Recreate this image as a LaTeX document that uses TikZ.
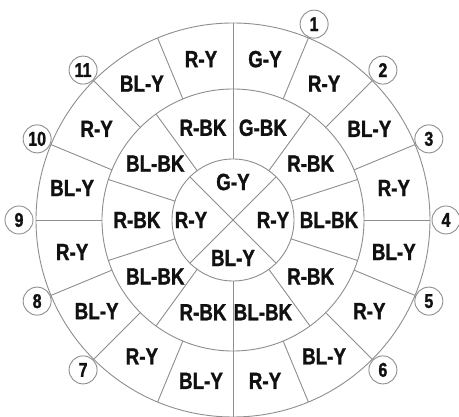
\documentclass[tikz,border=0pt]{standalone}
\usepackage{fontspec}
\usepackage{xcolor}
\usepackage{tikz}
\newfontfamily\condfont[FakeStretch=0.8,FakeBold=1.2]{Liberation Sans Bold}
\definecolor{wireink}{HTML}{111111}
\definecolor{wiregray}{HTML}{8E8E8E}
\tikzset{
  ring/.style={draw=wiregray,line width=0.9pt},
  spoke/.style={draw=wiregray,line width=0.9pt},
  wire/.style={inner sep=0pt,text=wireink,
               font=\condfont\fontsize{23.5}{24}\selectfont},
  pin/.style={circle,draw=wiregray,line width=0.9pt,fill=white,minimum size=28pt,
              inner sep=0pt,text=wireink,font=\condfont\fontsize{20}{21}\selectfont},
}

\begin{document}
\begin{tikzpicture}[x=1pt,y=1pt]
  \useasboundingbox[fill=white] (-233,-197) rectangle (226,220);
  % rings
  \draw[ring] (0,0) circle (197);
  \draw[ring] (0,0) circle (131);
  \draw[ring] (0,0) circle (61);
  % centre cross
  \draw[spoke] (45:61) -- (225:61);
  \draw[spoke] (135:61) -- (315:61);
  % middle ring spokes
  \draw[spoke] (90:61) -- (90:131);
  \draw[spoke] (54:61) -- (54:131);
  \draw[spoke] (18:61) -- (18:131);
  \draw[spoke] (-18:61) -- (-18:131);
  \draw[spoke] (-54:61) -- (-54:131);
  \draw[spoke] (-90:61) -- (-90:131);
  \draw[spoke] (-126:61) -- (-126:131);
  \draw[spoke] (-162:61) -- (-162:131);
  \draw[spoke] (162:61) -- (162:131);
  \draw[spoke] (126:61) -- (126:131);
  % outer ring spokes
  \draw[spoke] (90:131) -- (90:197);
  \draw[spoke] (67.5:131) -- (67.5:197);
  \draw[spoke] (45:131) -- (45:197);
  \draw[spoke] (22.5:131) -- (22.5:197);
  \draw[spoke] (0:131) -- (0:197);
  \draw[spoke] (-22.5:131) -- (-22.5:197);
  \draw[spoke] (-45:131) -- (-45:197);
  \draw[spoke] (-67.5:131) -- (-67.5:197);
  \draw[spoke] (-90:131) -- (-90:197);
  \draw[spoke] (-112.5:131) -- (-112.5:197);
  \draw[spoke] (-135:131) -- (-135:197);
  \draw[spoke] (-157.5:131) -- (-157.5:197);
  \draw[spoke] (180:131) -- (180:197);
  \draw[spoke] (157.5:131) -- (157.5:197);
  \draw[spoke] (135:131) -- (135:197);
  \draw[spoke] (112.5:131) -- (112.5:197);
  % pin numbers
  \node[pin] (pin1) at (67.5:212) {1};
  \node[pin] (pin2) at (45:212) {2};
  \node[pin] (pin3) at (22.5:212) {3};
  \node[pin] (pin4) at (0:213) {4};
  \node[pin] (pin5) at (-22.5:212) {5};
  \node[pin] (pin6) at (-45:212) {6};
  \node[pin] (pin7) at (-135:212) {7};
  \node[pin] (pin8) at (-157.5:212) {8};
  \node[pin] (pin9) at (180:214) {9};
  \node[pin] (pin10) at (157.5:212) {10};
  \node[pin] (pin11) at (135:212) {11};
  % centre wires
  \node[wire] (c1) at (90:38) {G-Y};
  \node[wire] (c2) at (0:40) {R-Y};
  \node[wire] (c3) at (-90:38) {BL-Y};
  \node[wire] (c4) at (180:42) {R-Y};
  % middle ring wires
  \node[wire] (m1) at (72:97) {G-BK};
  \node[wire] (m2) at (36:96) {R-BK};
  \node[wire] (m3) at (0:96) {BL-BK};
  \node[wire] (m4) at (-36:96) {R-BK};
  \node[wire] (m5) at (-72:97) {BL-BK};
  \node[wire] (m6) at (-108:97) {R-BK};
  \node[wire] (m7) at (-144:96) {BL-BK};
  \node[wire] (m8) at (180:96) {R-BK};
  \node[wire] (m9) at (144:96) {BL-BK};
  \node[wire] (m10) at (108:97) {R-BK};
  % outer ring wires
  \node[wire] (o1) at (78.75:164) {G-Y};
  \node[wire] (o2) at (56.25:164) {R-Y};
  \node[wire] (o3) at (33.75:164) {BL-Y};
  \node[wire] (o4) at (11.25:164) {R-Y};
  \node[wire] (o5) at (-11.25:164) {BL-Y};
  \node[wire] (o6) at (-33.75:164) {R-Y};
  \node[wire] (o7) at (-56.25:164) {BL-Y};
  \node[wire] (o8) at (-78.75:164) {R-Y};
  \node[wire] (o9) at (-101.25:164) {BL-Y};
  \node[wire] (o10) at (-123.75:164) {R-Y};
  \node[wire] (o11) at (-146.25:164) {BL-Y};
  \node[wire] (o12) at (-168.75:164) {R-Y};
  \node[wire] (o13) at (168.75:164) {BL-Y};
  \node[wire] (o14) at (146.25:164) {R-Y};
  \node[wire] (o15) at (123.75:164) {BL-Y};
  \node[wire] (o16) at (101.25:164) {R-Y};
\end{tikzpicture}
\end{document}
